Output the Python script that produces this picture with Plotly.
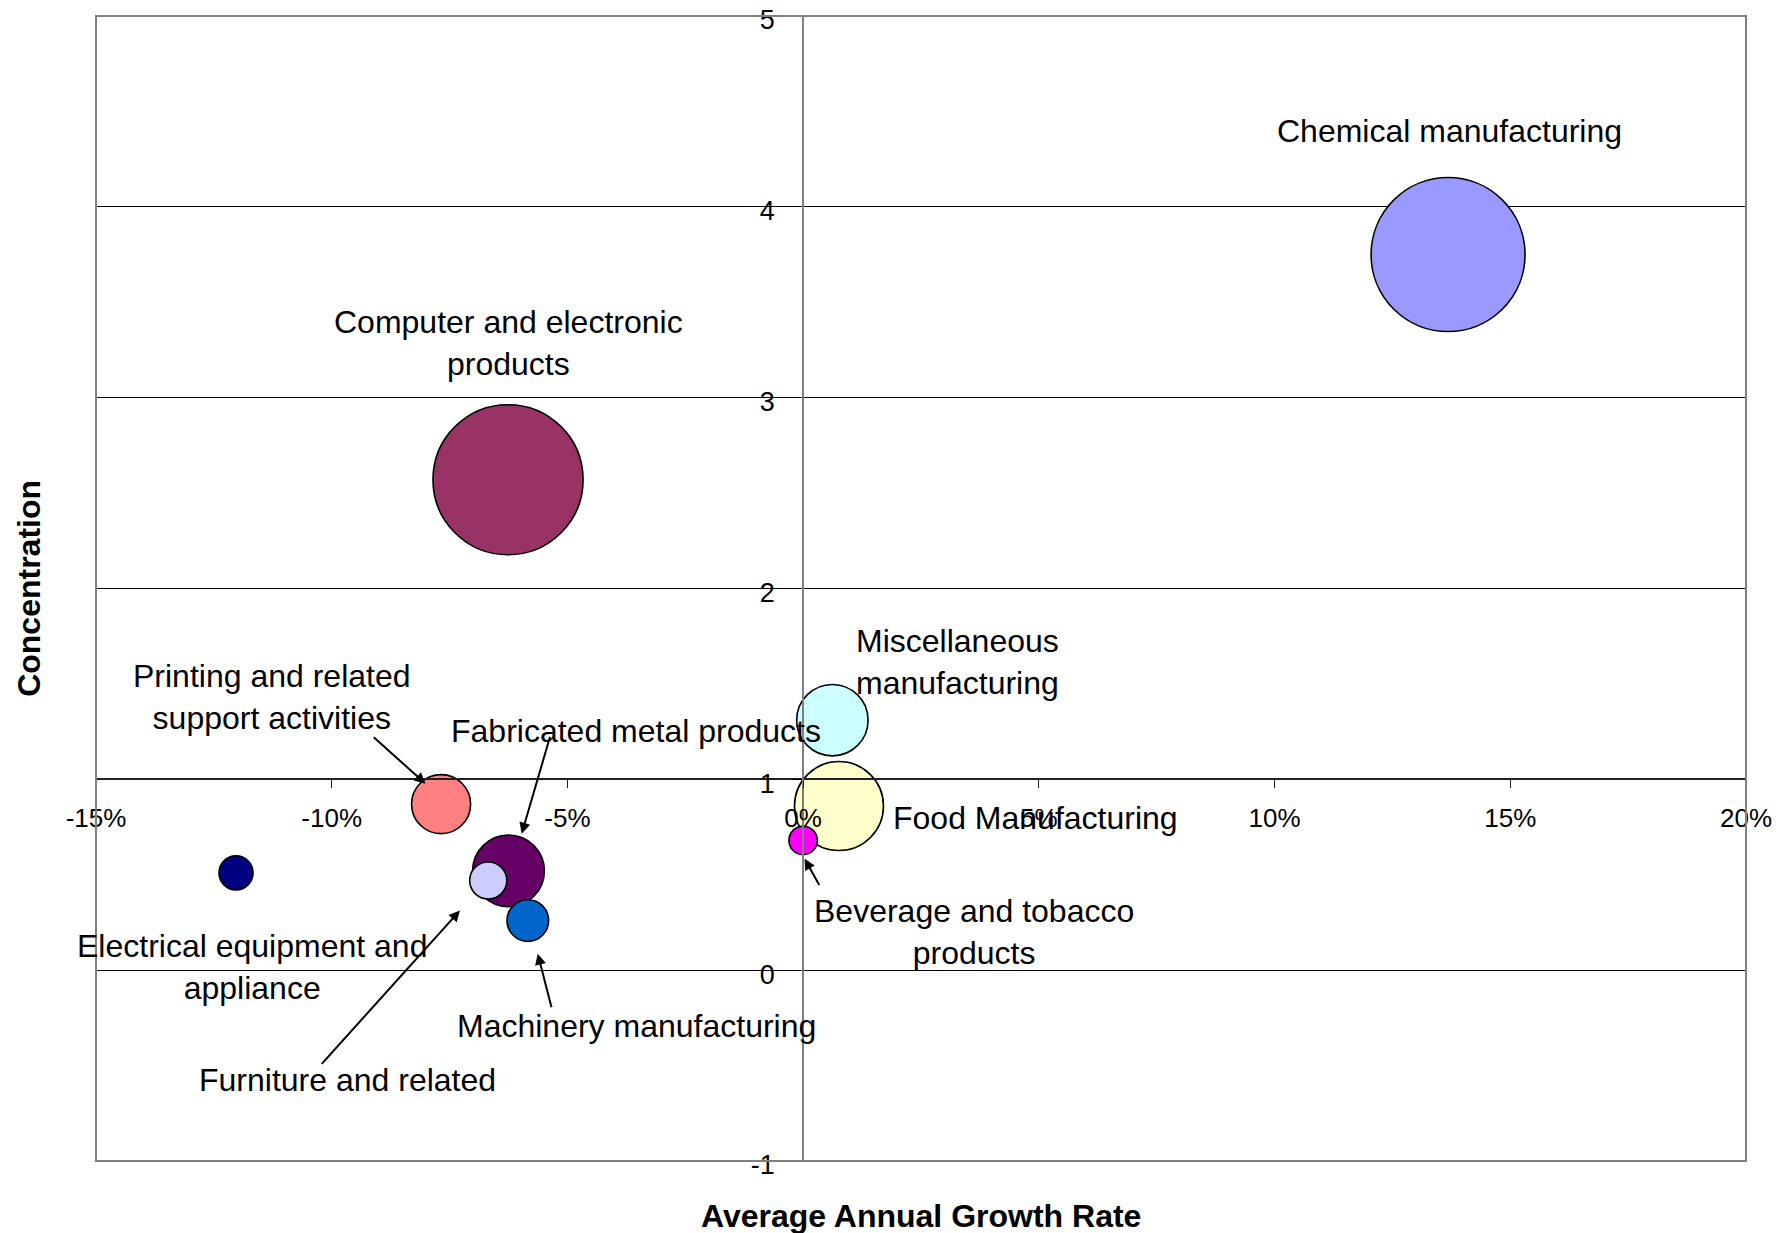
import plotly.graph_objects as go

# ---- data ----
industries = ["Chemical manufacturing", "Computer and electronic products",
              "Miscellaneous manufacturing", "Food Manufacturing",
              "Beverage and tobacco products", "Printing and related support activities",
              "Fabricated metal products", "Furniture and related",
              "Machinery manufacturing", "Electrical equipment and appliance"]
growth_pct = [13.68, -6.26, 0.62, 0.76, 0.0, -7.68, -6.25, -6.68, -5.84, -12.03]
concentration = [3.75, 2.57, 1.31, 0.86, 0.68, 0.87, 0.52, 0.47, 0.26, 0.51]
bubble_size = [100, 95, 21.5, 33.4, 3.4, 14.7, 21.7, 5.8, 7.3, 4.9]
colors = ["#9999FF", "#993366", "#CCFFFF", "#FFFFCC", "#FF00FF",
          "#FF8080", "#660066", "#CCCCFF", "#0066CC", "#000080"]

x_tickvals = [-15, -10, -5, 0, 5, 10, 15, 20]
x_ticktext = ["-15%", "-10%", "-5%", "0%", "5%", "10%", "15%", "20%"]
y_tickvals = [-1, 0, 1, 2, 3, 4, 5]
y_ticktext = ["-1", "0", "1", "2", "3", "4", "5"]

# ---- label layout (text, x, y, xanchor) ----
labels = [
    ("Chemical manufacturing", 13.72, 4.40, "center"),
    ("Computer and electronic<br>products", -6.26, 3.285, "center"),
    ("Miscellaneous<br>manufacturing", 3.28, 1.616, "center"),
    ("Food Manufacturing", 1.86, 0.798, "left"),
    ("Beverage and tobacco<br>products", 3.62, 0.20, "center"),
    ("Printing and related<br>support activities", -11.27, 1.431, "center"),
    ("Fabricated metal products", -3.54, 1.252, "center"),
    ("Electrical equipment and<br>appliance", -11.70, 0.015, "center"),
    ("Machinery manufacturing", -3.54, -0.29, "center"),
    ("Furniture and related", -9.67, -0.577, "center"),
]
# arrows: (tail x, tail y, head x, head y)
arrows = [
    (-9.14, 1.227, -8.01, 0.977),
    (-5.36, 1.231, -5.97, 0.715),
    (-10.24, -0.499, -7.28, 0.313),
    (-5.33, -0.202, -5.63, 0.086),
    (0.36, 0.439, 0.03, 0.584),
]

max_d = 154
fig = go.Figure()
fig.add_trace(go.Scatter(
    x=growth_pct, y=concentration, mode="markers", text=industries,
    marker=dict(size=bubble_size, sizemode="area",
                sizeref=2.0 * max(bubble_size) / max_d ** 2,
                color=colors, opacity=1,
                line=dict(color="black", width=1.6)),
    showlegend=False, hoverinfo="text",
))

font_family = "Liberation Sans, Arial, sans-serif"
annotations = []
for txt, lx, ly, xa in labels:
    annotations.append(dict(x=lx, y=ly, xref="x", yref="y", text=txt, showarrow=False,
                            xanchor=xa, yanchor="middle",
                            font=dict(family=font_family, size=32, color="black")))
for tx, ty, hx, hy in arrows:
    annotations.append(dict(x=hx, y=hy, ax=tx, ay=ty, xref="x", yref="y",
                            axref="x", ayref="y", text="", showarrow=True,
                            arrowhead=2, arrowsize=1.1, arrowwidth=2,
                            arrowcolor="black", standoff=0, startstandoff=0))
annotations.append(dict(x=0.5, y=-0.048, xref="paper", yref="paper",
                        text="<b>Average Annual Growth Rate</b>", showarrow=False,
                        xanchor="center", yanchor="middle",
                        font=dict(family=font_family, size=32, color="black")))
annotations.append(dict(x=-0.041, y=0.5, xref="paper", yref="paper",
                        text="<b>Concentration</b>", showarrow=False, textangle=-90,
                        xanchor="center", yanchor="middle",
                        font=dict(family=font_family, size=32, color="black")))

fig.update_layout(
    width=1788, height=1233,
    margin=dict(l=96, r=42, t=16, b=72, autoexpand=False),
    paper_bgcolor="white", plot_bgcolor="white",
    font=dict(family=font_family, color="black"),
    annotations=annotations,
    xaxis=dict(range=[-15, 20], tickvals=x_tickvals, ticktext=x_ticktext,
               showgrid=False, zeroline=False, automargin=False,
               anchor="free", position=1 / 3,
               showline=True, linecolor="#202020", linewidth=2,
               ticks="outside", ticklen=8, tickcolor="#202020", tickwidth=1,
               ticklabelstandoff=7, ticklabeloverflow="allow",
               tickfont=dict(family=font_family, size=26, color="black")),
    yaxis=dict(range=[-1, 5], tickvals=y_tickvals, ticktext=y_ticktext,
               showgrid=True, gridcolor="black", gridwidth=1, zeroline=False,
               automargin=False,
               anchor="free", position=15 / 35,
               showline=True, linecolor="#808080", linewidth=2,
               ticks="outside", ticklen=10, tickcolor="black", tickwidth=1,
               ticklabelstandoff=12, ticklabelshift=4, ticklabeloverflow="allow",
               tickfont=dict(family=font_family, size=27, color="black")),
    shapes=[dict(type="rect", xref="paper", yref="paper", x0=0, y0=0, x1=1, y1=1,
                 line=dict(color="#808080", width=2), layer="above")],
)

# remove the browser's default 8px body margin so the figure fills the window
fig.write_html("out.html", config={"displayModeBar": False},
               post_script="document.body.style.margin='0';document.body.style.overflow='hidden';")
